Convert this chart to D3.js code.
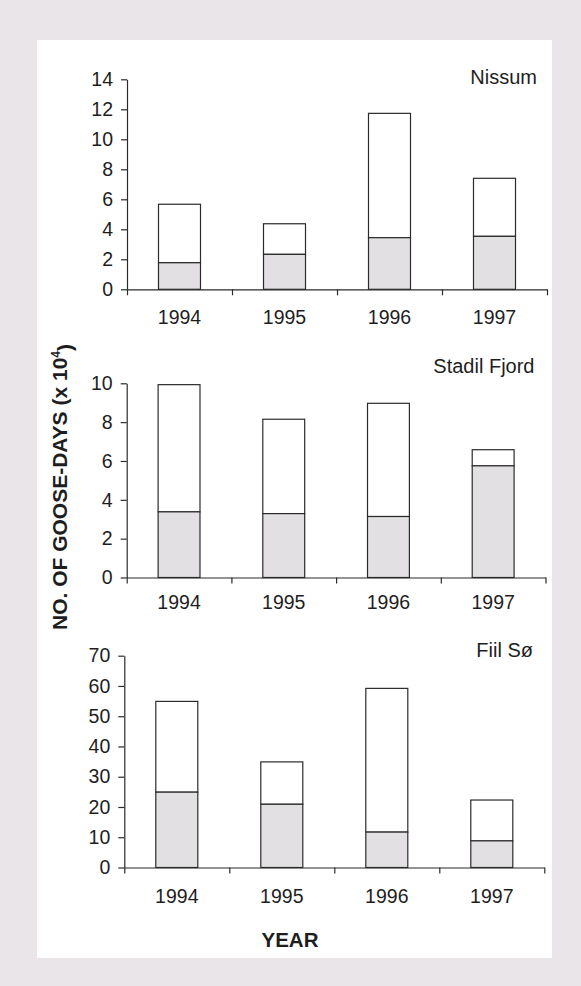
<!DOCTYPE html>
<html>
<head>
<meta charset="utf-8">
<script src="https://cdn.jsdelivr.net/npm/d3@7"></script>
<style>
  html, body { margin: 0; padding: 0; background: #e9e5e9; }
  svg { display: block; }
  text { font-family: Arial, "Liberation Sans", Helvetica, sans-serif; fill: #1e1e1e; }
</style>
</head>
<body>
<svg id="chart" width="581" height="986"></svg>
<script>
// ---------- data ----------
const categories = ["1994", "1995", "1996", "1997"];
const siteNames = ["Nissum", "Stadil Fjord", "Fiil Sø"];

const nissumTotal = [5.67, 4.37, 11.73, 7.4];
const nissumLower = [1.77, 2.33, 3.44, 3.53];
const nissumTicks = [0, 2, 4, 6, 8, 10, 12, 14];

const stadilTotal = [9.93, 8.15, 8.97, 6.58];
const stadilLower = [3.38, 3.29, 3.14, 5.75];
const stadilTicks = [0, 2, 4, 6, 8, 10];

const fiilTotal = [54.9, 34.9, 59.2, 22.3];
const fiilLower = [24.9, 20.9, 11.7, 8.8];
const fiilTicks = [0, 10, 20, 30, 40, 50, 60, 70];

const yAxisTitle = "NO. OF GOOSE-DAYS (x 10";
const yAxisSup = "4";
const xAxisTitle = "YEAR";

// ---------- layout ----------
const panels = [
  { name: siteNames[0], total: nissumTotal, lower: nissumLower, ticks: nissumTicks,
    left: 127, right: 547, top: 79.3, bottom: 289.3, titleX: 537, titleY: 84, labelOff: 35.2 },
  { name: siteNames[1], total: stadilTotal, lower: stadilLower, ticks: stadilTicks,
    left: 126.7, right: 545.5, top: 383.3, bottom: 577.5, titleX: 534.5, titleY: 373, labelOff: 31 },
  { name: siteNames[2], total: fiilTotal, lower: fiilLower, ticks: fiilTicks,
    left: 124.3, right: 544.3, top: 655.7, bottom: 867.5, titleX: 533, titleY: 657, labelOff: 35 }
];

const ink = "#2b2b2b";
const grayFill = "#e3e0e4";

const svg = d3.select("#chart");

// white page panel
svg.append("rect")
  .attr("x", 37).attr("y", 40).attr("width", 515).attr("height", 918)
  .attr("fill", "#ffffff");

panels.forEach(p => {
  const g = svg.append("g");
  const yMax = d3.max(p.ticks);
  const y = d3.scaleLinear().domain([0, yMax]).range([p.bottom, p.top]);
  const x = d3.scaleBand().domain(categories).range([p.left, p.right])
    .paddingInner(0.6).paddingOuter(0.3);
  const xb = d3.scaleLinear().domain([0, categories.length]).range([p.left, p.right]);

  // bars: lower (gray) part and upper (white) part
  const rows = categories.map((c, i) => ({ c, total: p.total[i], lower: p.lower[i] }));
  g.selectAll("rect.upper").data(rows).join("rect")
    .attr("class", "upper")
    .attr("x", d => x(d.c)).attr("width", x.bandwidth())
    .attr("y", d => y(d.total)).attr("height", d => y(d.lower) - y(d.total))
    .attr("fill", "#ffffff").attr("stroke", ink).attr("stroke-width", 1.2);
  g.selectAll("rect.lower").data(rows).join("rect")
    .attr("class", "lower")
    .attr("x", d => x(d.c)).attr("width", x.bandwidth())
    .attr("y", d => y(d.lower)).attr("height", d => y(0) - y(d.lower))
    .attr("fill", grayFill).attr("stroke", ink).attr("stroke-width", 1.2);

  // y axis
  const ya = g.append("g").attr("transform", `translate(${p.left},0)`)
    .call(d3.axisLeft(y).tickValues(p.ticks).tickFormat(d3.format("d"))
      .tickSize(6).tickSizeOuter(0).tickPadding(8));
  ya.selectAll("path, line").attr("stroke", ink).attr("stroke-width", 1.2);
  ya.selectAll("text").attr("font-size", "19.5px").attr("fill", "#1e1e1e")
    .style("font-family", "Arial, 'Liberation Sans', sans-serif");

  // x axis: boundary ticks
  const xa = g.append("g").attr("transform", `translate(0,${p.bottom})`)
    .call(d3.axisBottom(xb).tickValues(d3.range(categories.length + 1))
      .tickFormat("").tickSize(6).tickSizeOuter(0));
  xa.selectAll("path, line").attr("stroke", ink).attr("stroke-width", 1.2);

  // x category labels
  const xl = g.append("g").attr("transform", `translate(0,${p.bottom})`)
    .call(d3.axisBottom(x).tickSize(0).tickPadding(0));
  xl.select(".domain").remove();
  xl.selectAll("text").attr("y", p.labelOff).attr("dy", 0)
    .attr("font-size", "19.5px").attr("fill", "#1e1e1e")
    .style("font-family", "Arial, 'Liberation Sans', sans-serif");

  // site title
  g.append("text").attr("x", p.titleX).attr("y", p.titleY)
    .attr("text-anchor", "end").attr("font-size", "20px").text(p.name);
});

// y-axis title
const yt = svg.append("text")
  .attr("transform", "translate(67,487) rotate(-90)")
  .attr("text-anchor", "middle").attr("font-size", "21px").attr("font-weight", "bold");
yt.append("tspan").text(yAxisTitle);
yt.append("tspan").attr("dy", "-0.55em").attr("font-size", "12px").text(yAxisSup);
yt.append("tspan").attr("dy", "0.55em").text(")");

// x-axis title
svg.append("text").attr("x", 290).attr("y", 947)
  .attr("text-anchor", "middle").attr("font-size", "20.5px").attr("font-weight", "bold")
  .text(xAxisTitle);
</script>
</body>
</html>
